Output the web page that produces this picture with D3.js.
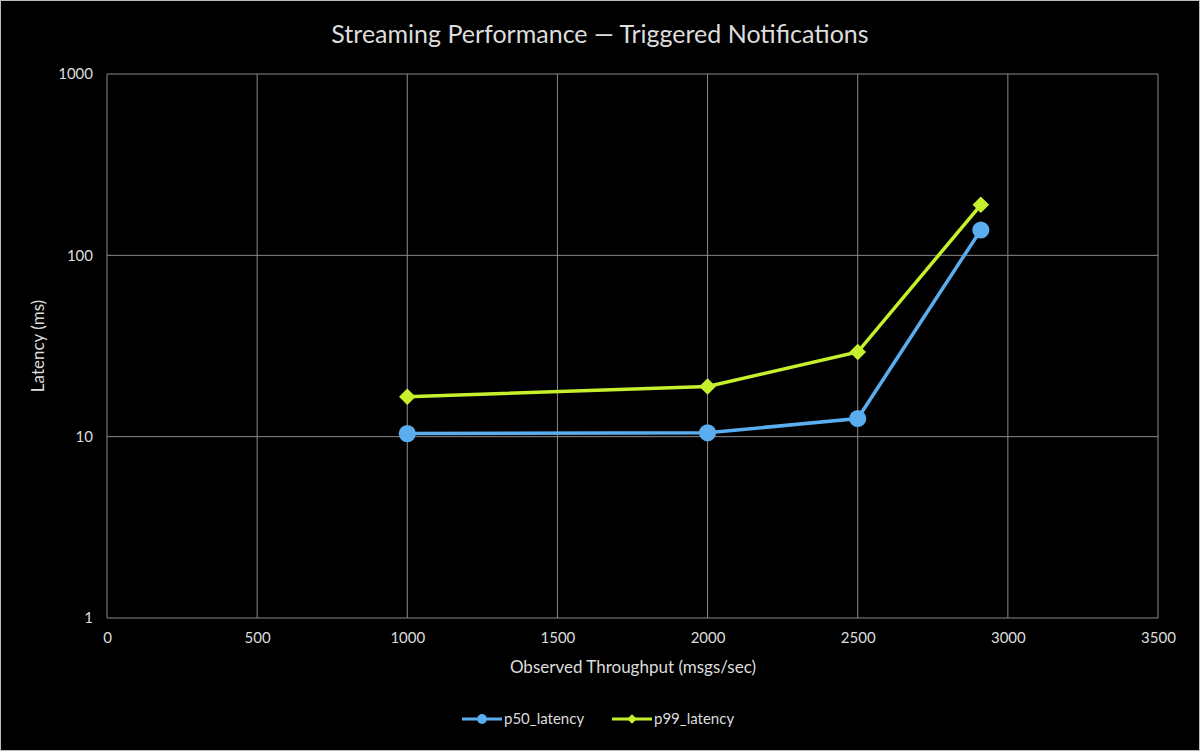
<!DOCTYPE html>
<html lang="en">
<head>
  <meta charset="UTF-8">
  <title>Streaming Performance</title>
  <style>
    html, body { margin: 0; padding: 0; background: #000; overflow: hidden; }
    svg { display: block; }
    text { font-family: Lato, "Open Sans", sans-serif; fill: #ddd; }
  </style>
</head>
<body>
  <script src="https://d3js.org/d3.v7.min.js"></script>
  <script>
    const throughput = [1000, 2000, 2500, 2910];
    const p50 = [10.4, 10.5, 12.6, 138];
    const p99 = [16.6, 18.9, 29.3, 190];
    const xTicks = [0, 500, 1000, 1500, 2000, 2500, 3000, 3500];
    const yTicks = [1, 10, 100, 1000];

    const width = 1200, height = 751;
    const padding = { left: 107, right: 42, top: 74, bottom: 133 };
    const innerWidth = width - padding.left - padding.right;
    const innerHeight = height - padding.top - padding.bottom;

    const blue = '#5aaeef';
    const green = '#c6ef2c';
    const grid = '#8a8a8a';

    const svg = d3.select('body').append('svg')
      .attr('width', width)
      .attr('height', height)
      .style('background', '#000');

    // thin frame round the whole chart
    svg.append('rect')
      .attr('x', 0.5).attr('y', 0.5)
      .attr('width', width - 1).attr('height', height - 1)
      .attr('fill', 'none')
      .attr('stroke', '#bbb');

    const xScale = d3.scaleLinear().domain([0, 3500]).range([0, innerWidth]);
    const yScale = d3.scaleLog().domain([1, 1000]).range([innerHeight, 0]);

    const g = svg.append('g')
      .attr('transform', `translate(${padding.left}, ${padding.top})`);

    // grid
    g.append('g').selectAll('line')
      .data(xTicks)
      .join('line')
      .attr('x1', d => xScale(d)).attr('x2', d => xScale(d))
      .attr('y1', 0).attr('y2', innerHeight)
      .attr('stroke', grid).attr('stroke-width', 1);

    g.append('g').selectAll('line')
      .data(yTicks)
      .join('line')
      .attr('x1', 0).attr('x2', innerWidth)
      .attr('y1', d => yScale(d)).attr('y2', d => yScale(d))
      .attr('stroke', grid).attr('stroke-width', 1);

    const xAxis = d3.axisBottom(xScale).tickValues(xTicks).tickSize(0).tickPadding(14)
      .tickFormat(d3.format('d'));
    const yAxis = d3.axisLeft(yScale).tickValues(yTicks).tickSize(0).tickPadding(14)
      .tickFormat(d3.format('d'));

    // tidy up what d3 puts on the axis group
    const styleAxis = s => {
      s.select('.domain').remove();
      s.selectAll('.tick line').remove();
      s.attr('font-size', 15)
        .attr('font-family', 'Lato, sans-serif')
        .attr('fill', '#ddd');
      s.selectAll('text').attr('fill', '#ddd');
    };

    g.append('g')
      .attr('transform', `translate(0, ${innerHeight})`)
      .call(xAxis)
      .call(styleAxis);

    g.append('g')
      .call(yAxis)
      .call(styleAxis);

    // titles
    svg.append('text')
      .attr('x', 600).attr('y', 43)
      .attr('text-anchor', 'middle')
      .attr('font-size', 25)
      .text('Streaming Performance \u2014 Triggered Notifications');

    svg.append('text')
      .attr('x', 633).attr('y', 673)
      .attr('text-anchor', 'middle')
      .attr('font-size', 17)
      .text('Observed Throughput (msgs/sec)');

    svg.append('text')
      .attr('transform', `translate(44, ${padding.top + innerHeight / 2}) rotate(-90)`)
      .attr('text-anchor', 'middle')
      .attr('font-size', 17)
      .text('Latency (ms)');

    const series = [
      { name: 'p50_latency', values: p50, color: blue, shape: 'circle' },
      { name: 'p99_latency', values: p99, color: green, shape: 'diamond' },
    ];

    const line = d3.line()
      .x(d => xScale(d[0]))
      .y(d => yScale(d[1]));

    const marker = (shape, size) => shape === 'circle'
      ? d3.symbol().type(d3.symbolCircle).size(size)()
      : d3.symbol().type(d3.symbolSquare).size(size * 0.6)();

    series.forEach(s => {
      const pts = throughput.map((t, i) => [t, s.values[i]]);
      g.append('path')
        .datum(pts)
        .attr('fill', 'none')
        .attr('stroke', s.color)
        .attr('stroke-width', 3.5)
        .attr('d', line);

      g.append('g').selectAll('path')
        .data(pts)
        .join('path')
        .attr('transform', d => `translate(${xScale(d[0])}, ${yScale(d[1])})` +
          (s.shape === 'diamond' ? ' rotate(45)' : ''))
        .attr('d', marker(s.shape, 230))
        .attr('fill', s.color);
    });

    // legend
    const legendY = 719;
    const legendItems = [
      { x: 462, ...series[0] },
      { x: 612, ...series[1] },
    ];
    const lg = svg.append('g');
    legendItems.forEach(s => {
      lg.append('line')
        .attr('x1', s.x).attr('x2', s.x + 40)
        .attr('y1', legendY).attr('y2', legendY)
        .attr('stroke', s.color).attr('stroke-width', 3);
      lg.append('path')
        .attr('transform', `translate(${s.x + 20}, ${legendY})` +
          (s.shape === 'diamond' ? ' rotate(45)' : ''))
        .attr('d', marker(s.shape, 75))
        .attr('fill', s.color);
      lg.append('text')
        .attr('x', s.x + 42).attr('y', legendY)
        .attr('dy', '0.35em')
        .attr('font-size', 15)
        .text(s.name);
    });
  </script>
</body>
</html>
